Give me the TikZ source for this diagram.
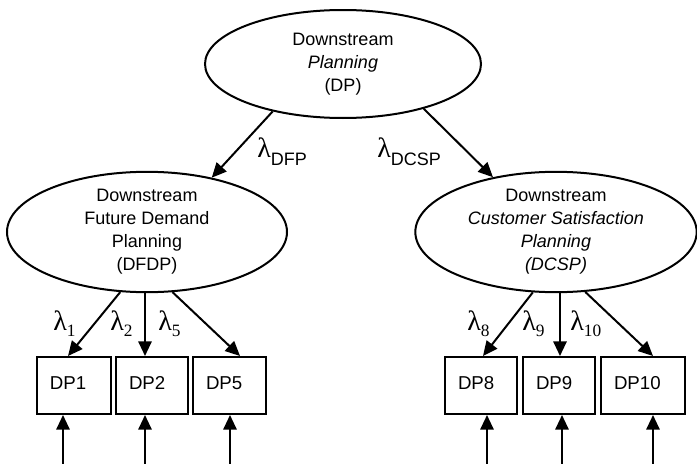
\documentclass[tikz,border=0pt]{standalone}
\usepackage{fontspec}
\setmainfont{Liberation Sans}
\newfontfamily\greekfont{Liberation Serif}
\usetikzlibrary{shapes.geometric,arrows.meta}

% loading labels: upright lambda with a lowered subscript
\newcommand\lamsym{{\greekfont\fontsize{21pt}{21pt}\selectfont λ}}
\newcommand\numsub[1]{\raisebox{-5pt}{\greekfont\fontsize{13pt}{13pt}\selectfont #1}}
\newcommand\txtsub[1]{\raisebox{-6pt}{\fontsize{13.5pt}{13.5pt}\selectfont #1}}

\tikzset{
  line/.style={line width=1.5pt},
  arr/.style={line, -{Triangle[length=11pt,width=10pt]}},
  latent/.style={ellipse, draw, line width=1.5pt, inner sep=0pt, align=center,
    font=\fontsize{13.5pt}{17.25pt}\selectfont},
  indicator/.style={draw, line width=1.5pt, minimum height=42.75pt, inner xsep=9.75pt,
    inner ysep=0pt, align=left, text height=10pt, text depth=4pt,
    font=\fontsize{14pt}{16pt}\selectfont},
  loading/.style={anchor=base west, inner sep=0pt}
}

\begin{document}
\begin{tikzpicture}[x=0.75pt,y=-0.75pt]
\useasboundingbox (0,0) rectangle (697,464);

% latent constructs
\node[latent, minimum width=207pt, minimum height=81pt] (dp) at (343,64)
  {Downstream\\ \textit{Planning}\\ (DP)};
\node[latent, minimum width=210pt, minimum height=80pt] (dfdp) at (147,232)
  {Downstream\\ Future Demand\\ Planning\\ (DFDP)};
\node[latent, minimum width=211pt, minimum height=81pt] (dcsp) at (556,232)
  {Downstream\\ \textit{Customer Satisfaction}\\ \textit{Planning}\\ \textit{(DCSP)}};

% observed indicators
\node[indicator, text width=36pt]   (dp1)  at (74,385.5)  {DP1};
\node[indicator, text width=34.5pt] (dp2)  at (152,385.5) {DP2};
\node[indicator, text width=35.25pt](dp5)  at (229.5,385.5) {DP5};
\node[indicator, text width=34.5pt] (dp8)  at (481,385.5) {DP8};
\node[indicator, text width=34.5pt] (dp9)  at (559,385.5) {DP9};
\node[indicator, text width=43.5pt] (dp10) at (643,385.5) {DP10};

% second-order paths
\draw[arr] (dp.214) -- (dfdp.40);
\draw[arr] (dp.331) -- (dcsp.139);

% first-order loadings
\draw[arr] (dfdp.246) -- ([xshift=-4.5pt]dp1.north);
\draw[arr] ([xshift=-1.5pt]dfdp.south) -- ([xshift=-5.25pt]dp2.north);
\draw[arr] (dfdp.293) -- ([xshift=7.9pt]dp5.north);
\draw[arr] (dcsp.249) -- ([xshift=1.5pt]dp8.north);
\draw[arr] ([xshift=3pt]dcsp.south) -- ([xshift=0.75pt]dp9.north);
\draw[arr] (dcsp.296) -- ([xshift=7.5pt]dp10.north);

% error terms entering from below
\coordinate (e1) at (63,464);
\coordinate (e2) at (145,464);
\coordinate (e5) at (230,464);
\coordinate (e8) at (487,464);
\coordinate (e9) at (562,464);
\coordinate (e10) at (653,464);
\draw[arr] (e1) -- (e1 |- dp1.south);
\draw[arr] (e2) -- (e2 |- dp2.south);
\draw[arr] (e5) -- (e5 |- dp5.south);
\draw[arr] (e8) -- (e8 |- dp8.south);
\draw[arr] (e9) -- (e9 |- dp9.south);
\draw[arr] (e10) -- (e10 |- dp10.south);

% loading labels
\node[loading] (ldfp)  at (257,157) {\lamsym\txtsub{DFP}};
\node[loading] (ldcsp) at (377,157) {\lamsym\txtsub{DCSP}};
\node[loading] (l1)  at (53,330)  {\lamsym\numsub{1}};
\node[loading] (l2)  at (110,330) {\lamsym\numsub{2}};
\node[loading] (l5)  at (158,330) {\lamsym\numsub{5}};
\node[loading] (l8)  at (467,330) {\lamsym\numsub{8}};
\node[loading] (l9)  at (522,330) {\lamsym\numsub{9}};
\node[loading] (l10) at (570,330) {\lamsym\numsub{10}};
\end{tikzpicture}
\end{document}
